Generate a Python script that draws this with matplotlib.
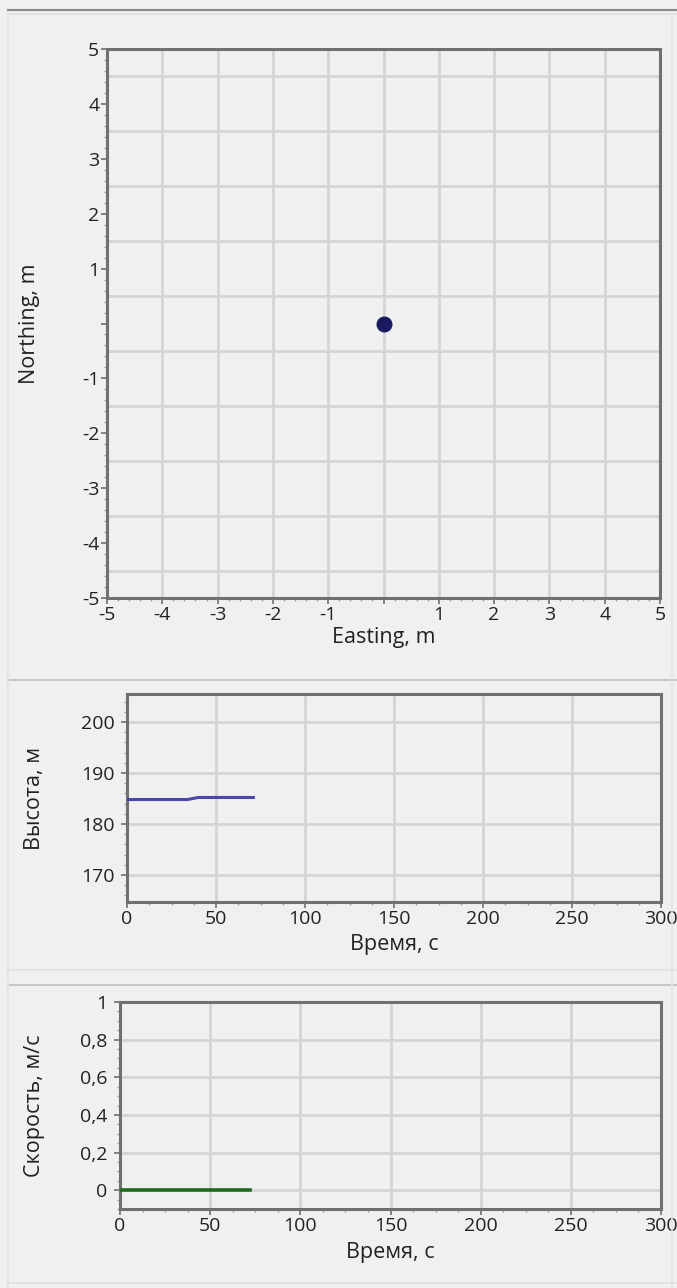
import numpy as np
import matplotlib
matplotlib.use("Agg")
import matplotlib.pyplot as plt
from matplotlib.ticker import MultipleLocator
from matplotlib.lines import Line2D

plt.rcParams['font.family'] = ['Open Sans', 'DejaVu Sans']

# позиция приёмника (м)
east = [0.0]
north = [0.0]

# высота по времени
t_alt = [0, 34, 40, 71]
alt = [184.8, 184.8, 185.2, 185.2]

# скорость по времени
t_vel = [0, 72]
vel = [0.0, 0.0]

xy_ticks = [-5, -4, -3, -2, -1, 0, 1, 2, 3, 4, 5]
xy_labels = ["-5", "-4", "-3", "-2", "-1", "", "1", "2", "3", "4", "5"]
north_grid = [-4.5, -3.5, -2.5, -1.5, -0.5, 0.5, 1.5, 2.5, 3.5, 4.5]
time_ticks = [0, 50, 100, 150, 200, 250, 300]
alt_ticks = [170, 180, 190, 200]
vel_ticks = [0, 0.2, 0.4, 0.6, 0.8, 1]
vel_labels = ["0", "0,2", "0,4", "0,6", "0,8", "1"]

BG = "#f0f0f0"
SPINE = "#707070"
GRID = "#d4d4d4"
TXT = "#222222"
W, H = 677, 1288
LABEL_FS = 15.5
TICK_FS = 14

fig = plt.figure(figsize=(W / 100, H / 100), dpi=100, facecolor=BG)


def box(l, t, r, b):
    return [l / W, 1 - b / H, (r - l) / W, (b - t) / H]


def style(ax, ypad):
    ax.set_facecolor(BG)
    for s in ax.spines.values():
        s.set_color(SPINE)
        s.set_linewidth(2.2)
    ax.tick_params(which="major", length=4, width=1.2, color=SPINE,
                   labelsize=TICK_FS, pad=1.5, labelcolor=TXT)
    ax.tick_params(axis="y", which="major", pad=ypad)
    ax.tick_params(which="minor", length=2.5, width=1, color="#a0a0a0")
    ax.tick_params(top=False, right=False)
    ax.set_axisbelow(True)


# --- план ---
ax1 = fig.add_axes(box(107, 49, 660, 598))
style(ax1, 1.5)
ax1.set_xlim(-5, 5)
ax1.set_ylim(-5, 5)
ax1.set_xticks(xy_ticks)
ax1.set_xticklabels(xy_labels)
ax1.set_yticks(xy_ticks)
ax1.set_yticklabels(xy_labels)
ax1.xaxis.set_minor_locator(MultipleLocator(0.2))
ax1.yaxis.set_minor_locator(MultipleLocator(0.2))
for x in xy_ticks[1:-1]:
    ax1.axvline(x, color=GRID, lw=2, zorder=0)
for y in north_grid:
    ax1.axhline(y, color=GRID, lw=2, zorder=0)
ax1.plot(east, north, "o", color="#1a1a60", markersize=10.5, zorder=3)
ax1.set_xlabel("Easting, m", fontsize=LABEL_FS, color=TXT)
ax1.set_ylabel("Northing, m", fontsize=LABEL_FS, color=TXT)
ax1.xaxis.set_label_coords(0.5, -0.052)
ax1.yaxis.set_label_coords(-0.121, 0.5)

# --- высота ---
ax2 = fig.add_axes(box(127, 694, 661, 902))
style(ax2, 5)
ax2.set_xlim(0, 300)
ax2.set_ylim(164.7, 205.5)
ax2.set_xticks(time_ticks)
ax2.set_yticks(alt_ticks)
ax2.xaxis.set_minor_locator(MultipleLocator(12.5))
ax2.yaxis.set_minor_locator(MultipleLocator(2))
ax2.grid(True, which="major", color=GRID, lw=2)
ax2.plot(t_alt, alt, color="#4747b0", lw=2.2, zorder=3)
ax2.set_xlabel("Время, с", fontsize=LABEL_FS, color=TXT)
ax2.set_ylabel("Высота, м", fontsize=LABEL_FS, color=TXT)
ax2.xaxis.set_label_coords(0.5, -0.156)
ax2.yaxis.set_label_coords(-0.154, 0.5)

# --- скорость ---
ax3 = fig.add_axes(box(120, 1002, 661, 1209))
style(ax3, 5)
ax3.set_xlim(0, 300)
ax3.set_ylim(-0.1, 1)
ax3.set_xticks(time_ticks)
ax3.set_yticks(vel_ticks)
ax3.set_yticklabels(vel_labels)
ax3.xaxis.set_minor_locator(MultipleLocator(12.5))
ax3.yaxis.set_minor_locator(MultipleLocator(0.05))
ax3.grid(True, which="major", color=GRID, lw=2)
ax3.plot(t_vel, vel, color="#1f6a1f", lw=2.6, zorder=3)
ax3.set_xlabel("Время, с", fontsize=LABEL_FS, color=TXT)
ax3.set_ylabel("Скорость, м/с", fontsize=LABEL_FS, color=TXT)
ax3.xaxis.set_label_coords(0.5, -0.158)
ax3.yaxis.set_label_coords(-0.139, 0.5)

# разделители панелей
for yy, c, lw in [(10, "#8a8a8a", 1.5), (14, "#e2e2e2", 1.5),
                  (680, "#c8c8c8", 1.5), (970, "#e2e2e2", 1.5),
                  (985, "#c8c8c8", 1.5), (1283, "#e2e2e2", 1.5)]:
    fig.add_artist(Line2D([8 / W, 1], [1 - yy / H, 1 - yy / H],
                          color=c, lw=lw, transform=fig.transFigure))
fig.add_artist(Line2D([8 / W, 8 / W], [0, 1 - 14 / H], color="#e2e2e2",
                      lw=1.2, transform=fig.transFigure))
fig.add_artist(Line2D([672 / W, 672 / W], [0, 1 - 14 / H], color="#e2e2e2",
                      lw=1.2, transform=fig.transFigure))

fig.savefig("out.png", dpi=100, facecolor=BG)
